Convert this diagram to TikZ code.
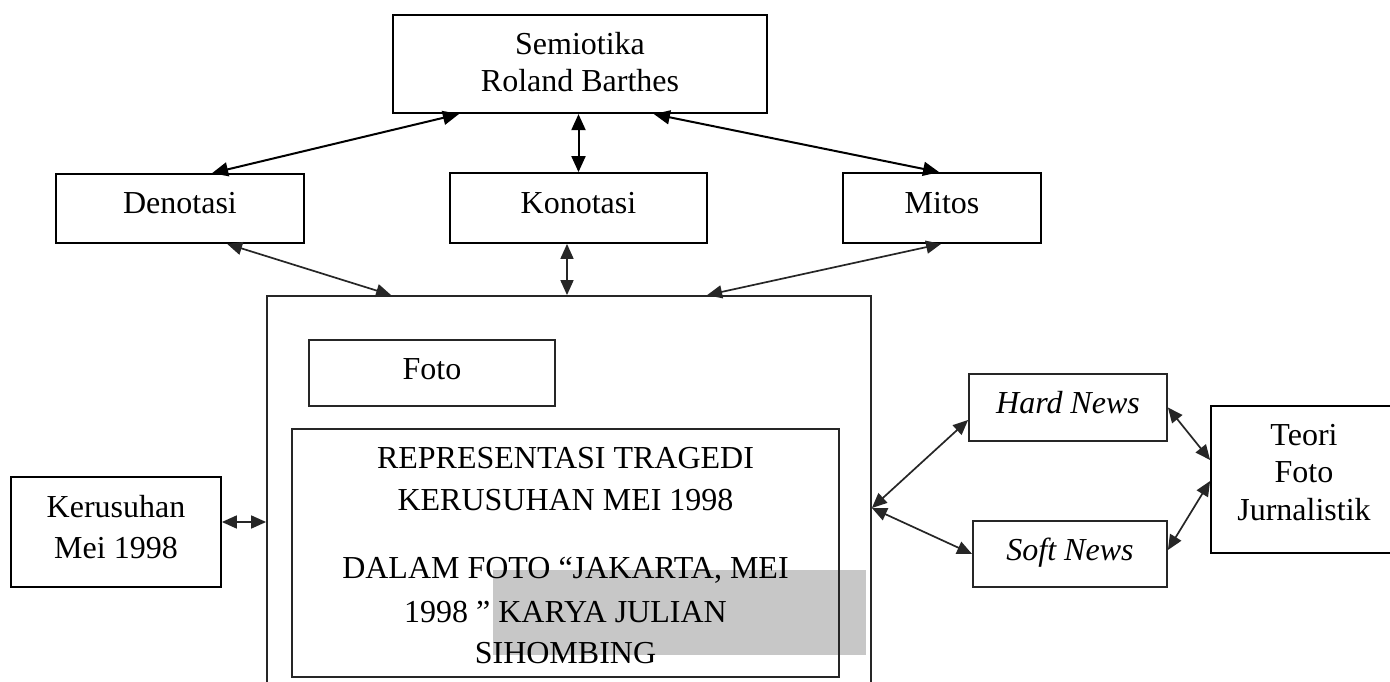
\documentclass[tikz,border=0pt]{standalone}
\usepackage{fontspec}
\setmainfont{Liberation Serif}
\usetikzlibrary{arrows.meta}
\begin{document}
\begin{tikzpicture}[x=1pt,y=-1pt,
  every node/.style={font=\fontsize{32}{37}\selectfont},
  box/.style={draw=black, line width=1.8pt, inner sep=0pt, text height=22pt},
  lbl/.style={inner sep=0pt, anchor=base},
  link/.style={{Triangle[length=16pt,width=14pt]}-{Triangle[length=16pt,width=14pt]}, line width=2pt},
  linkb/.style={{Triangle[length=15pt,width=13pt]}-{Triangle[length=15pt,width=13pt]}, line width=1.7pt, draw=black!85, fill=black!85},
  ]
\useasboundingbox (0,0) rectangle (1390,682);
\clip (0,0) rectangle (1390,682);
\fill[white] (0,0) rectangle (1390,682);

% shaded block inside the main frame
\fill[black!22] (493,570) rectangle (866,655);

% top
\node[box, line width=2.2pt, minimum width=374pt, minimum height=98pt] (semi) at (580,64) {};
\node[lbl] (semi1) at (580,55) {Semiotika};
\node[lbl] (semi2) at (580,92) {Roland Barthes};

\node[box, minimum width=248pt, minimum height=69pt, text depth=13pt] (deno) at (180,208.5) {Denotasi};
\node[box, minimum width=257pt, minimum height=70pt, text depth=12pt] (kono) at (578.5,208) {Konotasi};
\node[box, minimum width=198pt, minimum height=70pt, text depth=12pt] (mitos) at (942,208) {Mitos};

% main frame
\node[box, draw=black!85, minimum width=604pt, minimum height=404pt] (main) at (569,498) {};
\node[box, draw=black!85, minimum width=246pt, minimum height=66pt, text depth=10pt] (foto) at (432,373) {Foto};
\node[box, draw=black!85, minimum width=547pt, minimum height=248pt] (inner) at (565.5,553) {};
\node[lbl] (in1) at (565.5,468) {REPRESENTASI TRAGEDI};
\node[lbl] (in2) at (565.5,510) {KERUSUHAN MEI 1998};
\node[lbl] (in3) at (565.5,578) {DALAM FOTO “JAKARTA, MEI};
\node[lbl] (in4) at (565.5,622) {1998 ” KARYA JULIAN};
\node[lbl] (in5) at (565.5,663) {SIHOMBING};

% left
\node[box, minimum width=210pt, minimum height=110pt] (kerus) at (116,532) {};
\node[lbl] (ker1) at (116,517) {Kerusuhan};
\node[lbl] (ker2) at (116,558) {Mei 1998};

% right
\node[box, draw=black!85, minimum width=198pt, minimum height=67pt, text depth=11pt] (hard) at (1068,407.5) {\itshape Hard News};
\node[box, draw=black!85, minimum width=194pt, minimum height=66pt, text depth=10pt] (soft) at (1070,554) {\itshape Soft News};
\node[box, minimum width=186pt, minimum height=147pt] (teori) at (1304,479.5) {};
\node[lbl] (te1) at (1304,445) {Teori};
\node[lbl] (te2) at (1304,482) {Foto};
\node[lbl] (te3) at (1304,520) {Jurnalistik};

% connectors
\draw[link] ([xshift=67pt]semi.south west) -- ([xshift=157pt]deno.north west);
\draw[link] (semi.south -| kono.north) -- (kono.north);
\draw[link] ([xshift=262pt]semi.south west) -- ([xshift=97pt]mitos.north west);

\draw[linkb] ([xshift=172pt]deno.south west) -- ([xshift=125pt]main.north west);
\coordinate (kb) at ([xshift=-11.5pt]kono.south);
\draw[linkb] (kb) -- (kb |- main.north);
\draw[linkb] ([xshift=99pt]mitos.south west) -- ([xshift=441pt]main.north west);

\coordinate (ke) at ([yshift=10pt]kerus.east);
\draw[linkb] (ke) -- (ke -| main.west);

\coordinate (mr) at ([yshift=-10pt]main.east);
\draw[linkb] (mr) -- ([yshift=-12.5pt]hard.west);
\draw[linkb] (mr) -- (soft.west);
\draw[linkb] (hard.east) -- ([yshift=19.5pt]teori.west);
\draw[linkb] ([yshift=4pt]soft.east) -- ([yshift=-1.5pt]teori.west);
\end{tikzpicture}
\end{document}
